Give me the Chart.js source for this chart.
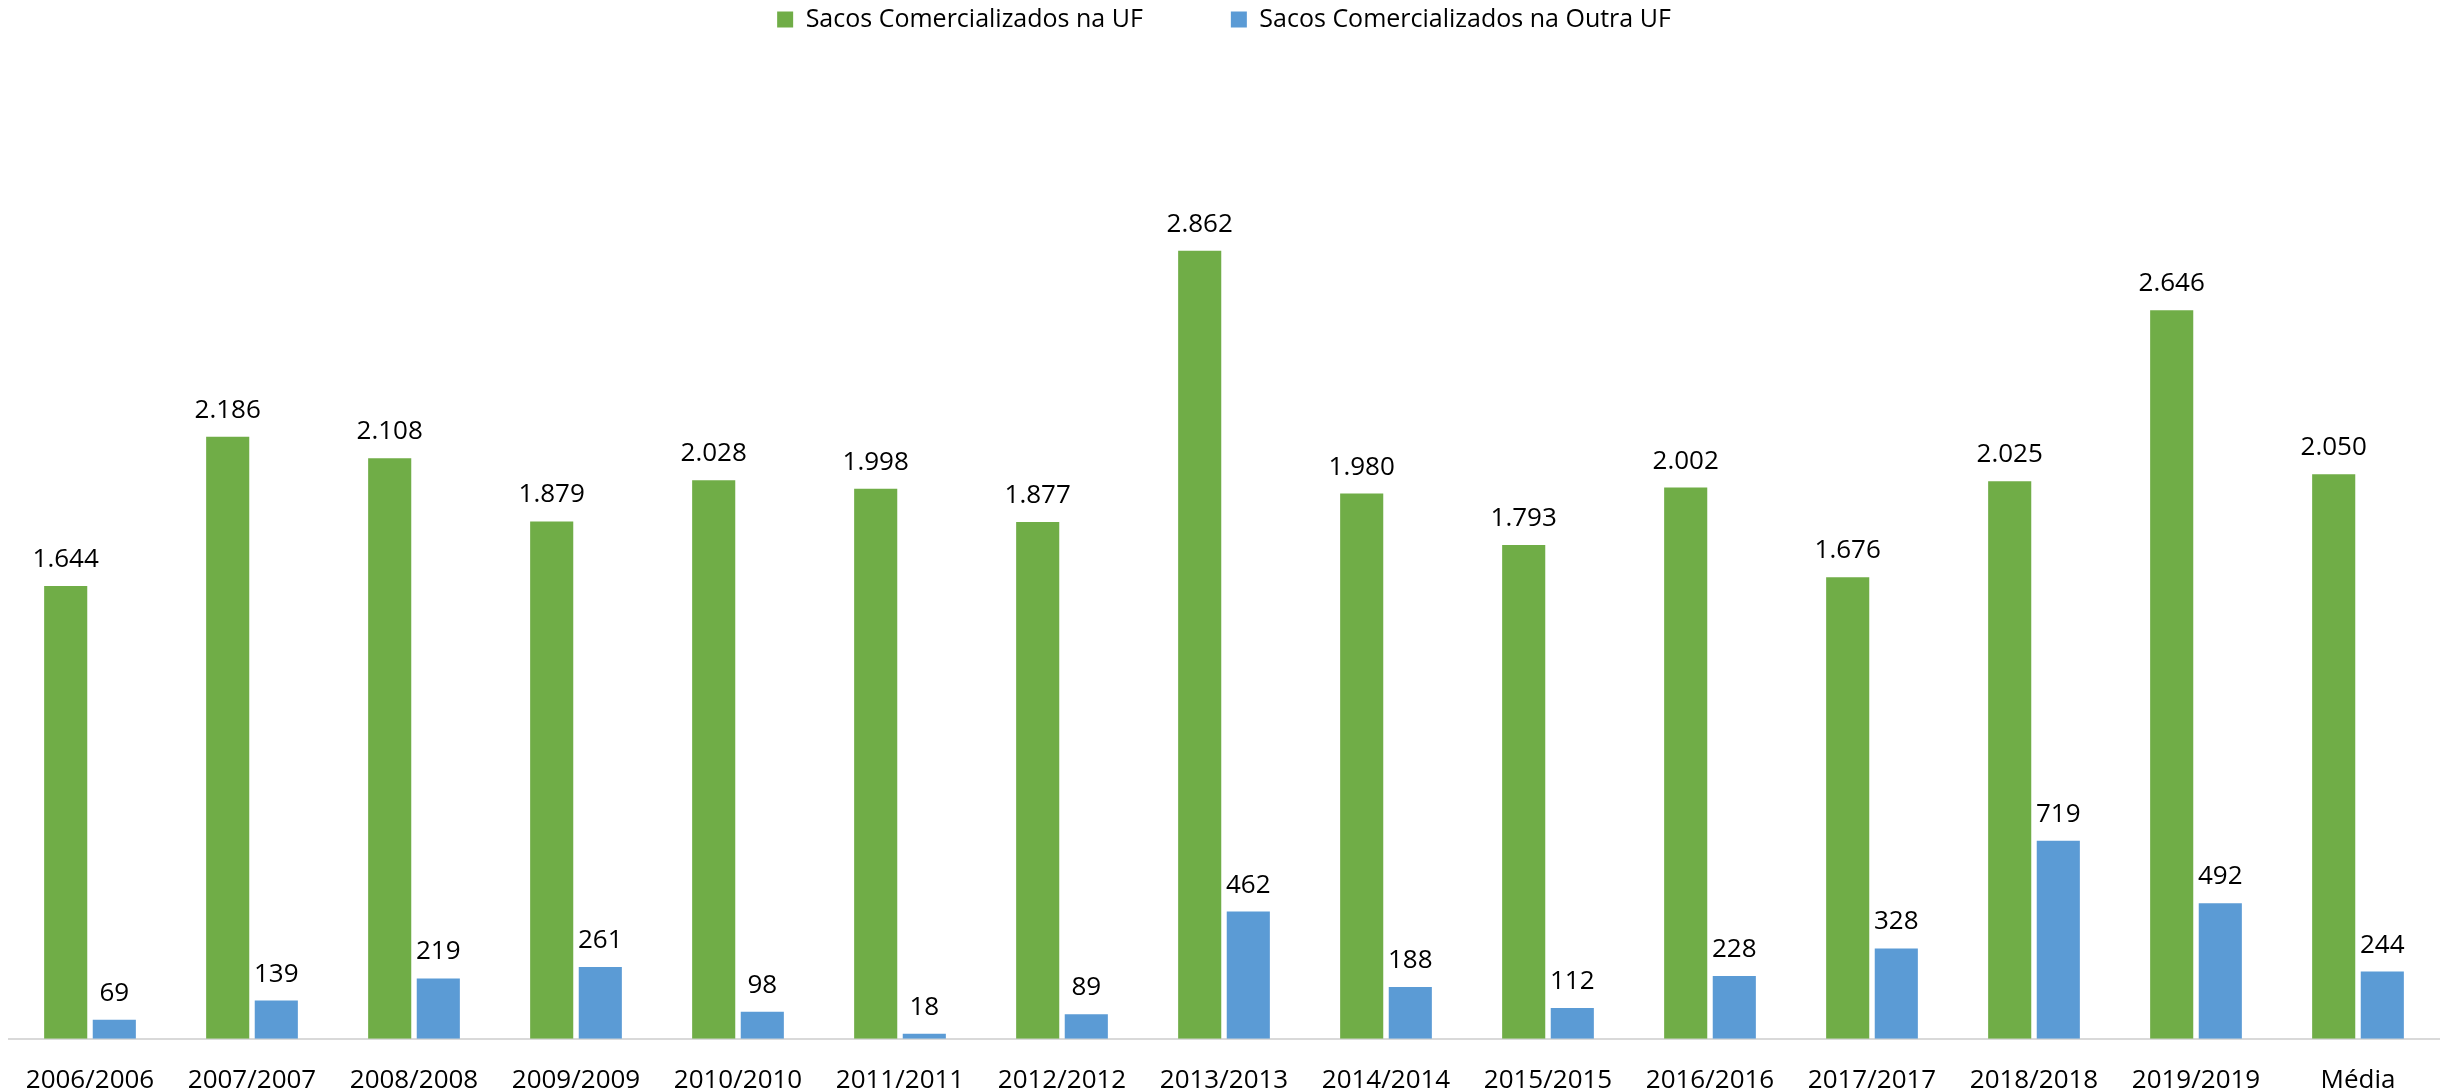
<!DOCTYPE html>
<html>
<head>
<meta charset="utf-8">
<script src="https://cdn.jsdelivr.net/npm/chart.js@4.4.1/dist/chart.umd.min.js"></script>
<style>
    html, body { margin: 0; padding: 0; background: #ffffff; }
    #wrap { width: 2448px; height: 1092px; position: relative; }
</style>
</head>
<body>
<div id="wrap"><canvas id="sacosChart"></canvas></div>
<script>
// Safras (categories)
const safras = ['2006/2006', '2007/2007', '2008/2008', '2009/2009', '2010/2010', '2011/2011', '2012/2012',
    '2013/2013', '2014/2014', '2015/2015', '2016/2016', '2017/2017', '2018/2018', '2019/2019', 'Média'];

// Sacos comercializados na UF
const sacosNaUF = [1644, 2186, 2108, 1879, 2028, 1998, 1877, 2862, 1980, 1793, 2002, 1676, 2025, 2646, 2050];

// Sacos comercializados na outra UF
const sacosOutraUF = [69, 139, 219, 261, 98, 18, 89, 462, 188, 112, 228, 328, 719, 492, 244];

const FONT = "'Open Sans', 'Liberation Sans', sans-serif";

// formats 1644 -> "1.644"
function fmtBR(v) {
    return String(v).replace(/\B(?=(\d{3})+(?!\d))/g, '.');
}

// draws the value above every bar
const valueLabels = {
    id: 'valueLabels',
    afterDatasetsDraw(chart) {
        const ctx = chart.ctx;
        ctx.save();
        ctx.font = `26px ${FONT}`;
        ctx.fillStyle = '#000000';
        ctx.textAlign = 'center';
        ctx.textBaseline = 'alphabetic';
        chart.data.datasets.forEach((ds, i) => {
            const meta = chart.getDatasetMeta(i);
            meta.data.forEach((bar, j) => {
                ctx.fillText(fmtBR(ds.data[j]), bar.x, bar.y - 19);
            });
        });
        ctx.restore();
    }
};

const ctx = document.getElementById('sacosChart').getContext('2d');
new Chart(ctx, {
    type: 'bar',
    data: {
        labels: safras,
        datasets: [
            {
                label: 'Sacos Comercializados na UF',
                data: sacosNaUF,
                backgroundColor: '#70ad47',
                categoryPercentage: 0.6,
                barPercentage: 0.887
            },
            {
                label: 'Sacos Comercializados na Outra UF',
                data: sacosOutraUF,
                backgroundColor: '#5b9bd5',
                categoryPercentage: 0.6,
                barPercentage: 0.887
            }
        ]
    },
    options: {
        responsive: true,
        maintainAspectRatio: false,
        animation: false,
        layout: {
            padding: { left: 9, right: 9, top: -81, bottom: -22 }
        },
        plugins: {
            legend: {
                position: 'top',
                labels: {
                    color: '#000000',
                    boxWidth: 16,
                    boxHeight: 16,
                    padding: 88,
                    font: { family: FONT, size: 25 }
                }
            },
            tooltip: { enabled: false }
        },
        scales: {
            x: {
                grid: { display: false },
                border: { display: true, color: '#d9d9d9', width: 2 },
                ticks: {
                    color: '#000000',
                    padding: 18,
                    maxRotation: 0,
                    autoSkip: false,
                    font: { family: FONT, size: 26 }
                }
            },
            y: {
                display: false,
                min: 0,
                max: 3620
            }
        }
    },
    plugins: [valueLabels]
});
</script>
</body>
</html>
